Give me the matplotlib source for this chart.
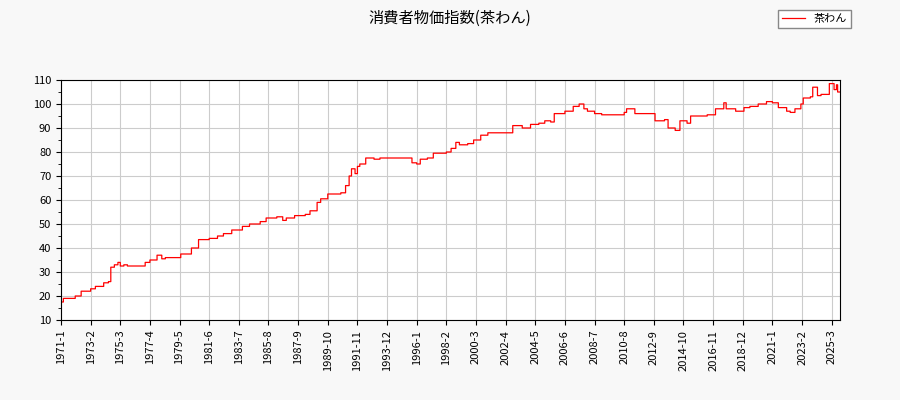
import matplotlib
matplotlib.use("Agg")
import matplotlib.pyplot as plt
from matplotlib.ticker import MultipleLocator
import pandas as pd

plt.rcParams['font.family'] = ['Noto Sans CJK JP', 'DejaVu Sans']

# change points (year, month, value); value holds until the next change point
change_dates = ["1971-01","1971-03","1972-01","1972-06","1973-02","1973-06","1974-01","1974-05","1974-07","1974-10",
 "1975-01","1975-03","1975-06","1975-09","1976-12","1977-04","1977-10","1978-02","1978-05","1979-06",
 "1980-03","1980-09","1981-06","1982-01","1982-06","1983-01","1983-10","1984-04","1985-01","1985-06",
 "1986-03","1986-08","1986-11","1987-06","1988-03","1988-07","1989-01","1989-04","1989-10","1990-09",
 "1991-01","1991-04","1991-06","1991-09","1991-11","1992-01","1992-06","1993-01","1993-06","1995-09",
 "1996-01","1996-04","1996-10","1997-03","1998-02","1998-06","1998-10","1999-01","1999-08","2000-01",
 "2000-07","2001-01","2002-10","2003-06","2004-01","2004-08","2005-01","2005-06","2005-09","2006-06",
 "2007-01","2007-06","2007-10","2008-01","2008-07","2009-01","2010-08","2010-10","2011-05","2012-10",
 "2013-06","2013-09","2014-03","2014-07","2015-01","2015-04","2016-06","2017-01","2017-08","2017-10",
 "2018-06","2019-01","2019-06","2020-01","2020-08","2021-01","2021-06","2022-01","2022-04","2022-08",
 "2023-01","2023-03","2023-09","2023-11","2024-03","2024-06","2025-01","2025-05","2025-07","2025-08"]
change_values = [17.5,19,20,22,23,24,25.5,26,32,33,
 34,32.5,33,32.5,34,35,37,35.5,36,37.5,
 40,43.5,44,45,46,47.5,49,50,51,52.5,
 53,51.5,52.5,53.5,54,55.5,59,60.5,62.5,63,
 66,70,73,71,74,75,77.5,77,77.5,75.5,
 75,77,77.5,79.5,80,81.5,84,83,83.5,85,
 87,88,91,90,91.5,92,93,92.5,96,97,
 99,100,98,97,96,95.5,96.5,98,96,93,
 93.5,90,89,93,92,95,95.5,98,100.5,98,
 97,98.5,99,100,101,100.5,98.5,97,96.5,98,
 100,102.5,103,107,103.5,104,108.5,106,108,105]
end_date = "2025-10"
tick_labels = ["1971-1","1973-2","1975-3","1977-4","1979-5","1981-6","1983-7","1985-8","1987-9","1989-10",
 "1991-11","1993-12","1996-1","1998-2","2000-3","2002-4","2004-5","2006-6","2008-7","2010-8",
 "2012-9","2014-10","2016-11","2018-12","2021-1","2023-2","2025-3"]

s = pd.Series(change_values, index=pd.PeriodIndex(change_dates, freq="M"))
months = pd.period_range("1971-01", end_date, freq="M")
s = s.reindex(months).ffill()
x = range(len(s))
labels = [f"{p.year}-{p.month}" for p in months]

fig = plt.figure(figsize=(9, 4), dpi=100, facecolor="#f8f8f8")
ax = fig.add_axes([61/900, 80/400, 779/900, 240/400])
ax.plot(list(x), s.values, color="red", lw=0.9, drawstyle="steps-post", label="茶わん")
ax.set_xlim(0, len(s) - 1)
ax.set_ylim(10, 110)
ax.yaxis.set_major_locator(MultipleLocator(10))
ax.yaxis.set_minor_locator(MultipleLocator(5))
pos = [labels.index(t) for t in tick_labels]
ax.set_xticks(pos)
ax.set_xticklabels(tick_labels, rotation=90, fontsize=8)
ax.tick_params(axis='y', labelsize=8)
ax.grid(True, color="#cccccc", lw=0.8)
ax.set_axisbelow(True)
fig.suptitle("消費者物価指数(茶わん)", y=0.975, fontsize=11)
fig.legend(loc="upper right", bbox_to_anchor=(0.952, 0.99), fontsize=8, fancybox=False,
           edgecolor="#888888", framealpha=1)
fig.savefig("out.png", facecolor=fig.get_facecolor())
